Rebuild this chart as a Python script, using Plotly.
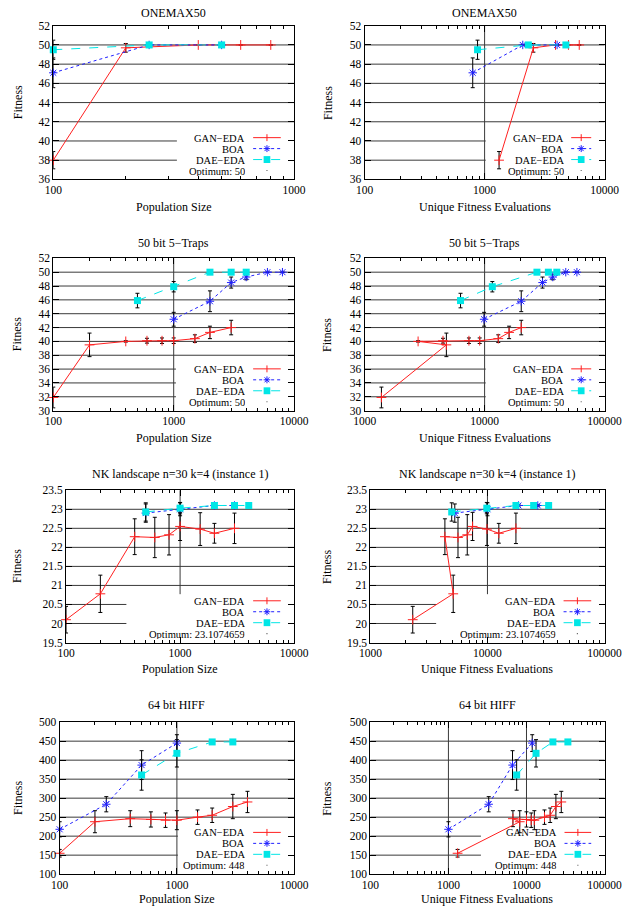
import math
import plotly.graph_objects as go

W, H = 640, 914

# ---------------- data ----------------
# ONEMAX50
ONEMAX_GAN_POP = [100, 200, 400, 600, 800]
ONEMAX_GAN_EVALS = [1320, 2550, 3900, 5000, 6150]
ONEMAX_GAN_MEAN = [38.0, 49.7, 50.0, 50.0, 50.0]
ONEMAX_GAN_ERR = [0.9, 0.45, 0.0, 0.0, 0.0]
ONEMAX_BOA_POP = [100, 250, 500]
ONEMAX_BOA_EVALS = [796, 2080, 4020]
ONEMAX_BOA_MEAN = [47.1, 50.0, 50.0]
ONEMAX_BOA_ERR = [1.55, 0.0, 0.0]
ONEMAX_DAE_POP = [100, 250, 500]
ONEMAX_DAE_EVALS = [873, 2315, 4760]
ONEMAX_DAE_MEAN = [49.5, 50.0, 50.0]
ONEMAX_DAE_ERR = [1.0, 0.0, 0.0]

# 50 bit 5-Traps
TRAPS_GAN_POP = [100, 200, 400, 600, 800, 1000, 1500, 2000, 3000]
TRAPS_GAN_EVALS = [1380, 4800, 2790, 4500, 7400, 9100, 13000, 16000, 20200]
TRAPS_GAN_MEAN = [31.9, 39.5, 40.0, 40.1, 40.1, 40.1, 40.4, 41.3, 42.0]
TRAPS_GAN_ERR = [1.5, 1.7, 0.1, 0.35, 0.4, 0.4, 0.55, 0.9, 1.05]
TRAPS_BOA_POP = [1000, 2000, 3000, 4000, 6000, 8000]
TRAPS_BOA_EVALS = [9900, 20200, 30400, 37000, 47500, 58800]
TRAPS_BOA_MEAN = [43.2, 45.8, 48.5, 49.3, 50.0, 50.0]
TRAPS_BOA_ERR = [1.0, 1.5, 0.8, 0.4, 0.0, 0.0]
TRAPS_DAE_POP = [500, 1000, 2000, 3000, 4000]
TRAPS_DAE_EVALS = [6300, 11600, 27300, 34000, 40000]
TRAPS_DAE_MEAN = [45.9, 47.9, 50.0, 50.0, 50.0]
TRAPS_DAE_ERR = [1.05, 0.75, 0.2, 0.0, 0.0]

# NK landscape n=30 k=4 (instance 1)
NK_GAN_POP = [100, 200, 400, 600, 800, 1000, 1500, 2000, 3000]
NK_GAN_EVALS = [2300, 5100, 4330, 5600, 6720, 7460, 9900, 12500, 17500]
NK_GAN_MEAN = [20.1, 20.78, 22.28, 22.26, 22.33, 22.55, 22.48, 22.37, 22.5]
NK_GAN_ERR = [0.35, 0.49, 0.47, 0.53, 0.53, 0.37, 0.43, 0.26, 0.4]
NK_BOA_POP = [500, 1000, 2000, 3000]
NK_BOA_EVALS = [5260, 10000, 18400, 26900]
NK_BOA_MEAN = [22.9, 23.0, 23.1, 23.1]
NK_BOA_ERR = [0.24, 0.17, 0.02, 0.02]
NK_DAE_POP = [500, 1000, 2000, 3000, 4000]
NK_DAE_EVALS = [4950, 9870, 17500, 24800, 33300]
NK_DAE_MEAN = [22.93, 23.03, 23.1, 23.1, 23.1]
NK_DAE_ERR = [0.24, 0.15, 0.02, 0.02, 0.02]

# 64 bit HIFF
HIFF_GAN_POP = [100, 200, 400, 600, 800, 1000, 1500, 2000, 3000, 4000]
HIFF_GAN_EVALS = [1310, 8200, 6700, 10000, 11500, 12600, 17000, 20100, 23800, 27900]
HIFF_GAN_MEAN = [155, 238, 246, 244, 242, 242, 250, 255, 278, 290]
HIFF_GAN_ERR = [10, 29, 21, 20, 19, 25, 19, 19, 32, 28]
HIFF_BOA_POP = [100, 250, 500, 1000]
HIFF_BOA_EVALS = [1000, 3280, 6620, 11840]
HIFF_BOA_MEAN = [218, 284, 387, 445]
HIFF_BOA_ERR = [20, 20, 38, 22]
HIFF_DAE_POP = [500, 1000, 2000, 3000]
HIFF_DAE_EVALS = [7480, 13250, 21800, 33900]
HIFF_DAE_MEAN = [361, 418, 448, 448]
HIFF_DAE_ERR = [40, 36, 1, 1]

SERIES_NAMES = ["GAN\u2212EDA", "BOA", "DAE\u2212EDA"]
PROBLEM_TITLES = ["ONEMAX50", "50 bit 5\u2212Traps",
                  "NK landscape n=30 k=4 (instance 1)", "64 bit HIFF"]
OPTIMUM_LABELS = ["Optimum: 50", "Optimum: 50", "Optimum: 23.1074659", "Optimum: 448"]
X_TITLES = ["Population Size", "Unique Fitness Evaluations"]
Y_TITLE = "Fitness"

# x tick labels per panel (row-major: pop, evals)
X_TICKS = [
    ["100", "1000"], ["100", "1000", "10000"],
    ["100", "1000", "10000"], ["1000", "10000", "100000"],
    ["100", "1000", "10000"], ["1000", "10000", "100000"],
    ["100", "1000", "10000"], ["100", "1000", "10000", "100000"],
]
Y_RANGES = [(36, 52), (30, 52), (19.5, 23.5), (100, 500)]
Y_DTICKS = [2, 2, 0.5, 50]

PROBLEMS = [
    [(ONEMAX_GAN_POP, ONEMAX_GAN_EVALS, ONEMAX_GAN_MEAN, ONEMAX_GAN_ERR),
     (ONEMAX_BOA_POP, ONEMAX_BOA_EVALS, ONEMAX_BOA_MEAN, ONEMAX_BOA_ERR),
     (ONEMAX_DAE_POP, ONEMAX_DAE_EVALS, ONEMAX_DAE_MEAN, ONEMAX_DAE_ERR)],
    [(TRAPS_GAN_POP, TRAPS_GAN_EVALS, TRAPS_GAN_MEAN, TRAPS_GAN_ERR),
     (TRAPS_BOA_POP, TRAPS_BOA_EVALS, TRAPS_BOA_MEAN, TRAPS_BOA_ERR),
     (TRAPS_DAE_POP, TRAPS_DAE_EVALS, TRAPS_DAE_MEAN, TRAPS_DAE_ERR)],
    [(NK_GAN_POP, NK_GAN_EVALS, NK_GAN_MEAN, NK_GAN_ERR),
     (NK_BOA_POP, NK_BOA_EVALS, NK_BOA_MEAN, NK_BOA_ERR),
     (NK_DAE_POP, NK_DAE_EVALS, NK_DAE_MEAN, NK_DAE_ERR)],
    [(HIFF_GAN_POP, HIFF_GAN_EVALS, HIFF_GAN_MEAN, HIFF_GAN_ERR),
     (HIFF_BOA_POP, HIFF_BOA_EVALS, HIFF_BOA_MEAN, HIFF_BOA_ERR),
     (HIFF_DAE_POP, HIFF_DAE_EVALS, HIFF_DAE_MEAN, HIFF_DAE_ERR)],
]

# ---------------- styling / layout ----------------
FONT = "Liberation Serif"
FS = 12
TFS = 11.5
KFS = 10.5
RED, BLUE, CYAN = "#ff2020", "#2020ff", "#00e6e6"
GRID = "#3a3a3a"
STYLES = [
    dict(line=dict(color=RED, width=1), marker=dict(symbol="cross-thin", size=7, line=dict(color=RED, width=1), color=RED)),
    dict(line=dict(color=BLUE, width=1, dash="dot"), marker=dict(symbol="asterisk", size=7, line=dict(color=BLUE, width=1), color=BLUE)),
    dict(line=dict(color=CYAN, width=1, dash="dash"), marker=dict(symbol="square", size=7, color=CYAN, line=dict(width=0))),
]

# plot boxes in pixels (x0, y0, x1, y1) from top-left
BOXES = [(43.3, 20, 296, 175.7), (370, 20, 621.7, 175.7),
         (43.3, 255.7, 296, 410), (370, 255.7, 621.7, 410),
         (56.7, 490.7, 296, 645), (376, 490.7, 621.7, 645),
         (50, 725.7, 296, 879.7), (376, 725.7, 621.7, 879.7)]
TITLE_Y = [7, 240, 474, 708]
XTITLE_Y = [204, 438, 672, 905]
KEY_LEFT = [173, 497, 172, 497, 120, 445, 174, 492]
KEY_TEXT_OFF = [50, 41, 50, 41, 50, 50, 50, 49]
KEY_SAMPLE_L = [43, 35, 43, 35, 43, 43, 43, 42]
KEY_SAMPLE_R = 14
KEY_ROWS = [42.3, 31.2, 20.1, 9.0]
KEY_TOP = 49


def px(x):
    return x / W


def py(y):
    return (H - y) / H


fig = go.Figure()
layout = dict(width=W, height=H, margin=dict(l=0, r=0, t=0, b=0),
              plot_bgcolor="white", paper_bgcolor="white", showlegend=False,
              font=dict(family=FONT, size=FS, color="black"))
annotations = []
shapes = []

for p in range(8):
    row, col = divmod(p, 2)
    n = p + 1
    xa = "x" if n == 1 else f"x{n}"
    ya = "y" if n == 1 else f"y{n}"
    x0, y0, x1, y1 = BOXES[p]
    pw, ph = x1 - x0, y1 - y0
    ticks = X_TICKS[p]
    tvals = [float(t) for t in ticks]
    lo, hi = tvals[0], tvals[-1]
    minor_vals = []
    for t in tvals[:-1]:
        minor_vals += [k * t for k in range(2, 10)]
    layout["xaxis" if n == 1 else f"xaxis{n}"] = dict(
        type="log", range=[math.log10(lo), math.log10(hi)],
        domain=[px(x0), px(x1)], anchor=ya,
        tickmode="array", tickvals=tvals, ticktext=ticks,
        ticks="inside", ticklen=6, tickwidth=1, tickcolor="black",
        minor=dict(tickmode="array", tickvals=minor_vals, ticks="inside",
                   ticklen=3, tickcolor="black", showgrid=False),
        showline=True, linecolor="black", linewidth=1, mirror="allticks",
        showgrid=False, zeroline=False,
        tickfont=dict(family=FONT, size=TFS))
    ylo, yhi = Y_RANGES[row]
    dt = Y_DTICKS[row]
    layout["yaxis" if n == 1 else f"yaxis{n}"] = dict(
        range=[ylo, yhi], dtick=dt, tick0=0,
        domain=[py(y1), py(y0)], anchor=xa,
        ticks="inside", ticklen=6, tickwidth=1, tickcolor="black",
        showline=True, linecolor="black", linewidth=1, mirror="allticks",
        showgrid=False, zeroline=False,
        tickfont=dict(family=FONT, size=TFS))

    # grid lines (stop where the opaque key box sits)
    kfrac = (KEY_LEFT[p] - x0) / pw
    ktop = KEY_TOP / ph
    nt = int(round((yhi - ylo) / dt))
    for k in range(1, nt):
        yv = ylo + k * dt
        yf = (yv - ylo) / (yhi - ylo)
        xend = kfrac if yf <= ktop else 1.0
        shapes.append(dict(type="line", xref=f"{xa} domain", yref=f"{ya} domain",
                           x0=0, x1=xend, y0=yf, y1=yf, layer="below",
                           line=dict(color=GRID, width=1)))
    llo, lhi = math.log10(lo), math.log10(hi)
    for tv in tvals[1:-1]:
        xf = (math.log10(tv) - llo) / (lhi - llo)
        ystart = ktop if xf >= kfrac else 0.0
        shapes.append(dict(type="line", xref=f"{xa} domain", yref=f"{ya} domain",
                           x0=xf, x1=xf, y0=ystart, y1=1, layer="below",
                           line=dict(color=GRID, width=1)))

    # data traces
    for s, (pop, ev, mean, err) in enumerate(PROBLEMS[row]):
        xs = pop if col == 0 else ev
        st = STYLES[s]
        fig.add_trace(go.Scatter(
            x=xs, y=mean, mode="lines+markers", name=SERIES_NAMES[s],
            xaxis=xa, yaxis=ya, line=st["line"], marker=st["marker"],
            error_y=dict(type="data", array=err, visible=True, color="black",
                         thickness=1, width=2),
            cliponaxis=False, showlegend=False))

    # titles
    cx = (x0 + x1) / 2
    annotations.append(dict(text=PROBLEM_TITLES[row], x=px(cx), y=py(TITLE_Y[row]),
                            xref="paper", yref="paper", showarrow=False,
                            xanchor="center", yanchor="middle"))
    annotations.append(dict(text=X_TITLES[col], x=px(cx), y=py(XTITLE_Y[row]),
                            xref="paper", yref="paper", showarrow=False,
                            xanchor="center", yanchor="middle"))
    annotations.append(dict(text=Y_TITLE, x=px(6 if col == 0 else 331),
                            y=py((y0 + y1) / 2), xref="paper", yref="paper",
                            showarrow=False, textangle=-90,
                            xanchor="center", yanchor="middle"))

    # key entries
    labels = SERIES_NAMES + [OPTIMUM_LABELS[row]]
    sl = x1 - KEY_SAMPLE_L[p]
    sr = x1 - KEY_SAMPLE_R
    mc = (sl + sr) / 2
    for i, lab in enumerate(labels):
        ey = y1 - KEY_ROWS[i]
        annotations.append(dict(text=lab, x=px(x1 - KEY_TEXT_OFF[p]), y=py(ey),
                                xref="paper", yref="paper", showarrow=False,
                                xanchor="right", yanchor="middle",
                                font=dict(size=KFS), height=10, borderpad=0))
        if i < 3:
            st = STYLES[i]
            shapes.append(dict(type="line", xref="paper", yref="paper",
                               x0=px(sl), x1=px(sr), y0=py(ey), y1=py(ey),
                               line=dict(color=st["line"]["color"], width=1,
                                         dash=st["line"].get("dash", "solid"))))
        r = 3.5
        if i == 0:
            shapes.append(dict(type="line", xref="paper", yref="paper",
                               x0=px(mc), x1=px(mc), y0=py(ey - r), y1=py(ey + r),
                               line=dict(color=RED, width=1)))
        elif i == 1:
            for dx, dy in [(r, 0), (0, r), (r * 0.72, r * 0.72), (r * 0.72, -r * 0.72)]:
                shapes.append(dict(type="line", xref="paper", yref="paper",
                                   x0=px(mc - dx), x1=px(mc + dx), y0=py(ey - dy), y1=py(ey + dy),
                                   line=dict(color=BLUE, width=1)))
        elif i == 2:
            shapes.append(dict(type="rect", xref="paper", yref="paper",
                               x0=px(mc - r), x1=px(mc + r), y0=py(ey + r), y1=py(ey - r),
                               fillcolor=CYAN, line=dict(width=0)))
        else:
            shapes.append(dict(type="rect", xref="paper", yref="paper",
                               x0=px(mc - 0.6), x1=px(mc + 0.6), y0=py(ey + 0.6), y1=py(ey - 0.6),
                               fillcolor="#666", line=dict(width=0)))

layout["annotations"] = annotations
layout["shapes"] = shapes
fig.update_layout(**layout)

# remove the page margin synchronously (runs right after newPlot is called)
FIX_MARGIN = ("}); document.body.style.margin='0'; document.body.style.padding='0'; "
              "document.documentElement.style.overflow='hidden'; (function(){")
fig.write_html("out.html", config={"displayModeBar": False}, post_script=FIX_MARGIN)
